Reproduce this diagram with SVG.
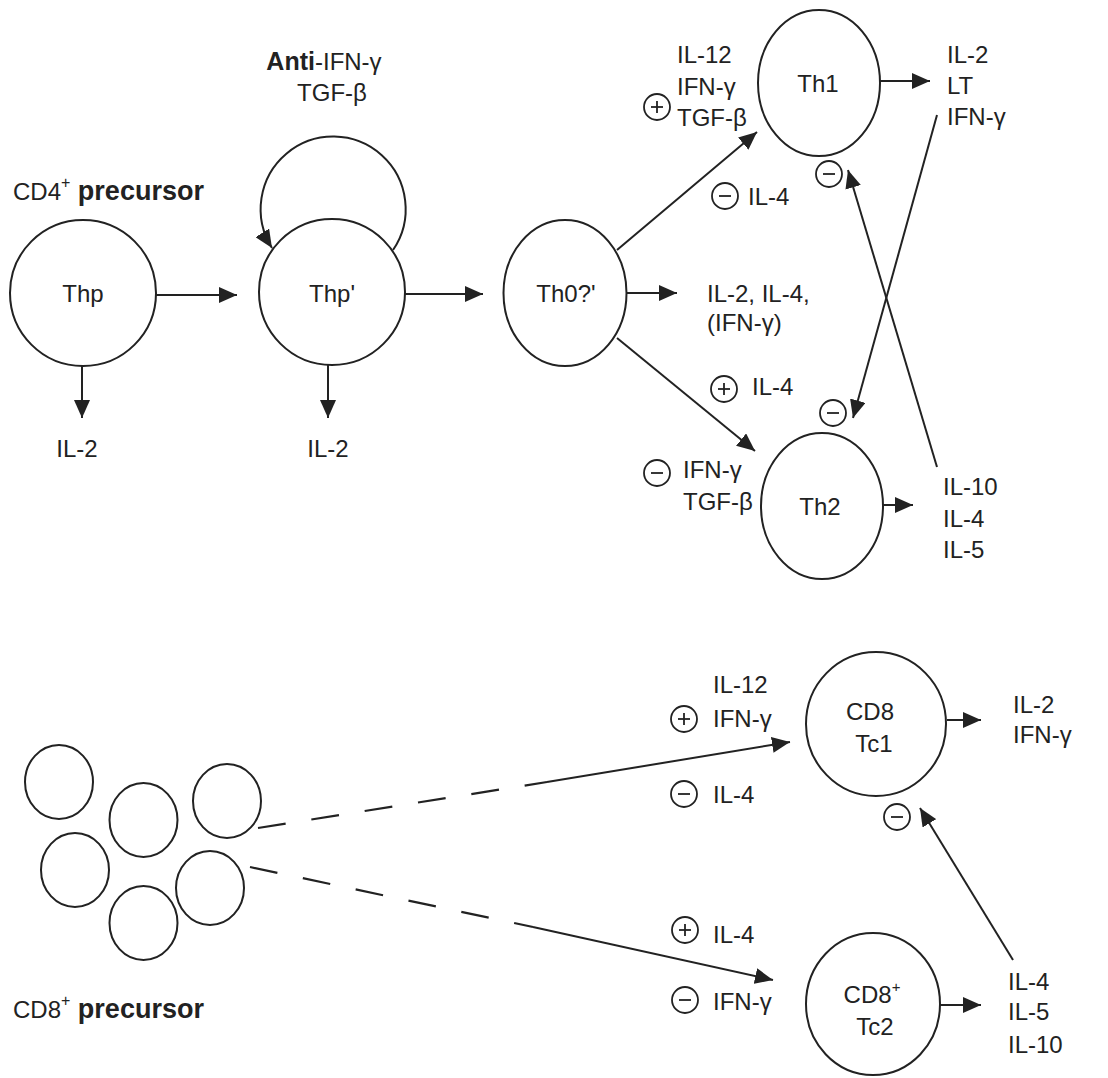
<svg xmlns="http://www.w3.org/2000/svg" width="1108" height="1078" viewBox="0 0 1108 1078">
<defs>
<style>
text{font-family:"Liberation Sans",Arial,Helvetica,sans-serif;font-size:24px;fill:#222}
.b{font-weight:bold}
.m{text-anchor:middle}
.cell{fill:none;stroke:#222;stroke-width:2}
.edge{fill:none;stroke:#222;stroke-width:2}
.dash{fill:none;stroke:#222;stroke-width:2.2;stroke-dasharray:28 26}
</style>
<marker id="ah" markerUnits="userSpaceOnUse" markerWidth="19" markerHeight="16" refX="18" refY="8" orient="auto">
<path d="M0,0 L18,8 L0,16 z" fill="#222"/>
</marker>
<g id="minus"><circle r="13" cx="0" cy="0" fill="none" stroke="#222" stroke-width="1.8"/><line x1="-6" y1="0" x2="6" y2="0" stroke="#222" stroke-width="1.8"/></g>
<g id="plus"><circle r="13" cx="0" cy="0" fill="none" stroke="#222" stroke-width="1.8"/><line x1="-6" y1="0" x2="6" y2="0" stroke="#222" stroke-width="1.8"/><line x1="0" y1="-6" x2="0" y2="6" stroke="#222" stroke-width="1.8"/></g>
</defs>
<rect width="1108" height="1078" fill="#fff"/>

<g id="connectors">
<line class="edge" x1="156" y1="295" x2="237" y2="295" marker-end="url(#ah)"/>
<line class="edge" x1="405" y1="294" x2="483" y2="294" marker-end="url(#ah)"/>
<line class="edge" x1="626" y1="293" x2="677" y2="293" marker-end="url(#ah)"/>
<line class="edge" x1="82" y1="366" x2="82" y2="418" marker-end="url(#ah)"/>
<line class="edge" x1="328" y1="364" x2="328" y2="418" marker-end="url(#ah)"/>
<path class="edge" d="M393,250 A72.5,72.5 0 1 0 272,248" marker-end="url(#ah)"/>
<line class="edge" x1="617" y1="250" x2="757" y2="132" marker-end="url(#ah)"/>
<line class="edge" x1="617" y1="338" x2="755" y2="451" marker-end="url(#ah)"/>
<line class="edge" x1="880" y1="81" x2="930" y2="81" marker-end="url(#ah)"/>
<line class="edge" x1="883" y1="505" x2="913" y2="505" marker-end="url(#ah)"/>
<line class="edge" x1="937" y1="467" x2="848" y2="170" marker-end="url(#ah)"/>
<line class="edge" x1="937" y1="115" x2="853" y2="418" marker-end="url(#ah)"/>
<line class="dash" x1="258" y1="828" x2="547" y2="782"/>
<line class="edge" x1="547" y1="782" x2="790" y2="742" marker-end="url(#ah)"/>
<line class="dash" x1="250" y1="867" x2="533" y2="927"/>
<line class="edge" x1="533" y1="927" x2="773" y2="980" marker-end="url(#ah)"/>
<line class="edge" x1="947" y1="720" x2="981" y2="720" marker-end="url(#ah)"/>
<line class="edge" x1="940" y1="1005" x2="981" y2="1005" marker-end="url(#ah)"/>
<line class="edge" x1="1013" y1="960" x2="920" y2="808" marker-end="url(#ah)"/>
</g>

<g id="node-thp">
<circle class="cell" cx="83" cy="293" r="73"/>
<text class="m" x="83" y="302" font-size="25">Thp</text>
</g>
<g id="node-thp2">
<circle class="cell" cx="332" cy="292" r="73"/>
<text class="m" x="332" y="302" font-size="25">Thp'</text>
</g>
<g id="node-th0">
<ellipse class="cell" cx="565" cy="293" rx="61.5" ry="73"/>
<text class="m" x="566" y="302">Th0?'</text>
</g>
<g id="node-th1">
<ellipse class="cell" cx="819" cy="83" rx="61" ry="73"/>
<text class="m" x="818" y="92">Th1</text>
</g>
<g id="node-th2">
<ellipse class="cell" cx="822" cy="506" rx="61" ry="73"/>
<text class="m" x="820" y="515">Th2</text>
</g>
<g id="node-tc1">
<ellipse class="cell" cx="876" cy="724" rx="70" ry="72"/>
<text class="m" x="870" y="720">CD8</text>
<text class="m" x="874" y="752">Tc1</text>
</g>
<g id="node-tc2">
<ellipse class="cell" cx="873" cy="1004" rx="67" ry="71"/>
<text class="m" x="872" y="1003">CD8<tspan font-size="15" dy="-11">+</tspan></text>
<text class="m" x="875" y="1035">Tc2</text>
</g>
<g id="node-cd8-precursors">
<ellipse class="cell" cx="59" cy="782" rx="34" ry="37"/>
<ellipse class="cell" cx="143.5" cy="820" rx="34" ry="37"/>
<ellipse class="cell" cx="227" cy="801" rx="34" ry="37"/>
<ellipse class="cell" cx="75" cy="870" rx="34" ry="37"/>
<ellipse class="cell" cx="210" cy="888" rx="34" ry="37"/>
<ellipse class="cell" cx="143.5" cy="923" rx="34" ry="37"/>
</g>

<g id="labels">
<text x="13" y="200" font-size="27">CD4<tspan font-size="16" dy="-12">+</tspan><tspan dy="12" class="b" font-size="27"> precursor</tspan></text>
<text class="m" x="324" y="70"><tspan class="b" font-size="25">Anti</tspan>-IFN-γ</text>
<text class="m" x="332" y="101">TGF-β</text>
<text class="m" x="77" y="457" font-size="25">IL-2</text>
<text class="m" x="328" y="457" font-size="25">IL-2</text>
<text x="677" y="63">IL-12</text>
<text x="677" y="95">IFN-γ</text>
<text x="677" y="126">TGF-β</text>
<text x="748" y="205">IL-4</text>
<text x="947" y="63">IL-2</text>
<text x="947" y="94">LT</text>
<text x="947" y="125">IFN-γ</text>
<text x="707" y="302">IL-2, IL-4,</text>
<text x="707" y="331">(IFN-γ)</text>
<text x="752" y="395">IL-4</text>
<text x="683" y="478">IFN-γ</text>
<text x="683" y="510">TGF-β</text>
<text x="943" y="495">IL-10</text>
<text x="943" y="527">IL-4</text>
<text x="943" y="558">IL-5</text>
<text x="713" y="693">IL-12</text>
<text x="713" y="727">IFN-γ</text>
<text x="713" y="803">IL-4</text>
<text x="713" y="943">IL-4</text>
<text x="713" y="1010">IFN-γ</text>
<text x="1013" y="713">IL-2</text>
<text x="1013" y="743">IFN-γ</text>
<text x="1008" y="990">IL-4</text>
<text x="1008" y="1020">IL-5</text>
<text x="1008" y="1053">IL-10</text>
<text x="13" y="1018" font-size="27">CD8<tspan font-size="16" dy="-12">+</tspan><tspan dy="12" class="b" font-size="27"> precursor</tspan></text>
</g>

<g id="signs">
<use href="#plus" x="657" y="107"/>
<use href="#minus" x="725" y="196"/>
<use href="#minus" x="829" y="174"/>
<use href="#plus" x="724" y="389"/>
<use href="#minus" x="833" y="413"/>
<use href="#minus" x="657" y="473"/>
<use href="#plus" x="684" y="719"/>
<use href="#minus" x="684" y="794"/>
<use href="#minus" x="897" y="817"/>
<use href="#plus" x="685" y="930"/>
<use href="#minus" x="685" y="1000"/>
</g>
</svg>
